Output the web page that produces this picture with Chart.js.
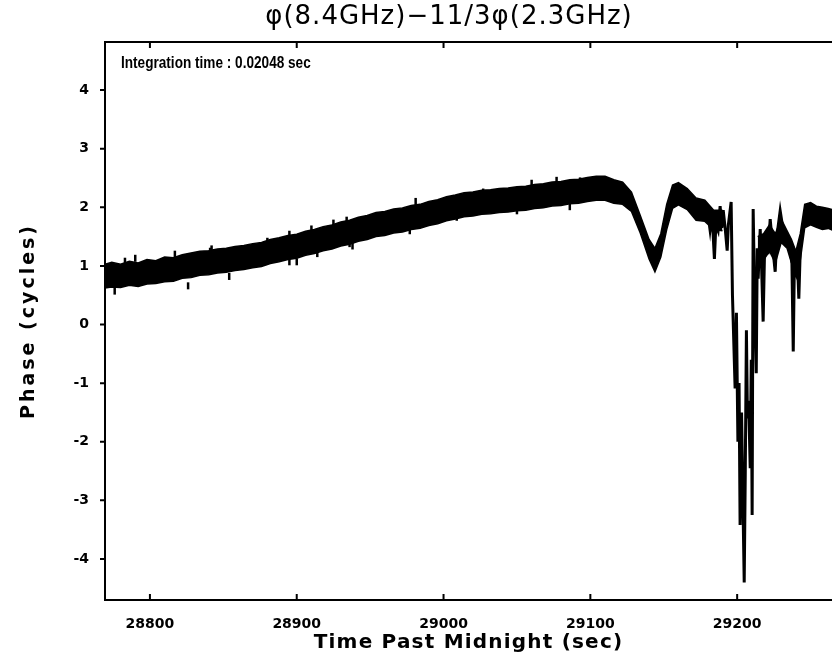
<!DOCTYPE html>
<html>
<head>
<meta charset="utf-8">
<script src="https://cdn.jsdelivr.net/npm/chart.js@4.4.1/dist/chart.umd.min.js"></script>
<style>
  html, body { margin: 0; padding: 0; background: #fff; }
  #wrap { position: relative; width: 832px; height: 665px; }
</style>
</head>
<body>
<div id="wrap"><canvas id="phase" width="832" height="665"></canvas></div>
<script>
// --- Texte ---
const chartTitle = "φ(8.4GHz)−11/3φ(2.3GHz)";
const noteText = "Integration time : 0.02048 sec";
const xAxisTitle = "Time Past Midnight (sec)";
const yAxisTitle = "Phase (cycles)";

// --- Achsen ---
const timeTicks = [28800, 28900, 29000, 29100, 29200];
const phaseTicks = [-4, -3, -2, -1, 0, 1, 2, 3, 4];
const timeRange = [28769.4, 29264.6];
const phaseRange = [-4.70, 4.82];

// --- Rauschband (obere / untere Kante) ---
const bandTime = [28768, 28774, 28780, 28786, 28792, 28798, 28804, 28810, 28816, 28822,
  28828, 28834, 28840, 28846, 28852, 28858, 28864, 28870, 28876, 28882,
  28888, 28894, 28900, 28906, 28912, 28918, 28924, 28930, 28936, 28942,
  28948, 28954, 28960, 28966, 28972, 28978, 28984, 28990, 28996, 29002,
  29008, 29014, 29020, 29026, 29032, 29038, 29044, 29050, 29056, 29062,
  29068, 29074, 29080, 29086, 29092, 29098, 29104, 29110, 29116, 29122,
  29128, 29134, 29140, 29144, 29148, 29152, 29156, 29160, 29166, 29172,
  29178, 29184, 29190];
const bandUpper = [1.02, 1.06, 1.03, 1.08, 1.05, 1.11, 1.09, 1.15, 1.14, 1.19,
  1.22, 1.25, 1.26, 1.29, 1.30, 1.33, 1.35, 1.38, 1.40, 1.45,
  1.48, 1.52, 1.54, 1.59, 1.62, 1.67, 1.70, 1.75, 1.78, 1.83,
  1.86, 1.91, 1.93, 1.97, 1.99, 2.03, 2.05, 2.10, 2.13, 2.18,
  2.21, 2.25, 2.26, 2.29, 2.30, 2.32, 2.33, 2.35, 2.36, 2.39,
  2.40, 2.43, 2.44, 2.47, 2.48, 2.51, 2.53, 2.53, 2.47, 2.43,
  2.26, 1.86, 1.45, 1.30, 1.55, 2.05, 2.38, 2.42, 2.32, 2.16,
  2.12, 1.95, 1.95];
const bandLower = [0.62, 0.64, 0.63, 0.67, 0.65, 0.69, 0.70, 0.73, 0.74, 0.79,
  0.80, 0.84, 0.85, 0.88, 0.89, 0.92, 0.94, 0.97, 0.99, 1.04,
  1.07, 1.11, 1.13, 1.18, 1.21, 1.26, 1.29, 1.34, 1.37, 1.42,
  1.45, 1.50, 1.52, 1.56, 1.58, 1.62, 1.64, 1.69, 1.72, 1.77,
  1.80, 1.84, 1.85, 1.88, 1.89, 1.91, 1.92, 1.94, 1.95, 1.98,
  1.99, 2.02, 2.03, 2.06, 2.07, 2.10, 2.12, 2.12, 2.07, 2.05,
  1.93, 1.56, 1.12, 0.90, 1.15, 1.62, 1.98, 2.04, 1.96, 1.78,
  1.76, 1.62, 1.60];

// --- Einzelne Ausreisser am Bandrand ---
const hairTime = [28776, 28783, 28790, 28817, 28826, 28841, 28842, 28854, 28880,
  28895, 28895, 28900, 28910, 28914, 28925, 28934, 28936, 28938, 28977,
  28981, 29009, 29027, 29050, 29060, 29077, 29086, 29093];
const hairPhase = [0.57, 1.08, 1.13, 1.20, 0.66, 1.25, 1.29, 0.82, 1.42,
  1.54, 1.07, 1.07, 1.63, 1.21, 1.73, 1.78, 1.38, 1.34, 1.60,
  2.10, 1.83, 2.26, 1.94, 2.41, 2.46, 2.01, 2.45];

// --- Band nach dem Einbruch ---
const tailTime = [29214, 29218, 29222, 29226, 29230, 29234, 29237, 29240, 29243, 29246,
  29250, 29254, 29258, 29262, 29266];
const tailUpper = [1.50, 1.55, 1.70, 1.55, 1.80, 1.60, 1.45, 1.25, 1.55, 2.05,
  2.08, 2.02, 2.00, 1.98, 1.95];
const tailLower = [1.05, 1.10, 1.25, 1.05, 1.40, 1.30, 1.05, 0.95, 1.10, 1.65,
  1.70, 1.66, 1.62, 1.64, 1.60];

// --- Phasensprünge (Einzelspur) ---
const spikeTime = [29180, 29181.5, 29182.5, 29183.6, 29184.5, 29185.5, 29187, 29188.4, 29189.5, 29190.5,
  29192, 29193.2, 29194, 29195.9, 29196.8, 29198.6, 29199.5, 29200.5, 29201.3, 29202,
  29203, 29204.8, 29205.5, 29206.3, 29207, 29207.8, 29208.9, 29209.6, 29210.2, 29210.9,
  29211.8, 29213, 29213.7, 29214.3, 29215.7, 29216.5, 29217.7, 29218.7, 29219.8, 29221,
  29222.5, 29223.9, 29225.9, 29227, 29229.3, 29231.4, 29234.1, 29236.1, 29237.3, 29238.2,
  29239, 29240, 29240.9, 29242, 29243, 29244.5, 29246.3];
const spikePhase = [1.90, 1.62, 1.85, 1.55, 1.12, 1.70, 1.60, 2.02, 1.65, 1.95,
  1.60, 1.26, 1.70, 2.09, 0.50, -1.09, 0.20, -2.00, -1.00, -3.42,
  -1.50, -4.40, -2.60, -0.10, -1.60, -1.30, -2.45, -0.60, -3.25, 1.97,
  0.60, -0.83, 1.30, 0.78, 1.63, 1.10, 0.05, 1.30, 1.55, 1.20,
  1.80, 1.40, 0.90, 1.50, 1.94, 1.60, 1.46, 1.30, 1.05, -0.46,
  1.10, 0.95, 1.20, 0.44, 1.30, 1.60, 1.92];

const pts = (xs, ys) => xs.map((t, i) => ({ x: t, y: ys[i] }));
const tickFont = { family: "DejaVu Sans", size: 14, weight: "bold" };

// Rahmen, Tickmarken nach innen, Titel und Notiz
const framePlugin = {
  id: "frame",
  afterDatasetsDraw(chart) {
    const { ctx, chartArea: a, scales: { x, y } } = chart;
    ctx.save();
    ctx.strokeStyle = "#000";
    ctx.lineWidth = 2;
    ctx.beginPath();
    ctx.moveTo(a.right, a.top); ctx.lineTo(a.left, a.top);
    ctx.lineTo(a.left, a.bottom); ctx.lineTo(a.right, a.bottom);
    x.ticks.forEach(t => {
      const px = x.getPixelForValue(t.value);
      ctx.moveTo(px, a.bottom); ctx.lineTo(px, a.bottom - 6);
      ctx.moveTo(px, a.top); ctx.lineTo(px, a.top + 6);
    });
    y.ticks.forEach(t => {
      const py = y.getPixelForValue(t.value);
      ctx.moveTo(a.left - 5, py); ctx.lineTo(a.left, py);
    });
    ctx.stroke();

    ctx.fillStyle = "#000";
    ctx.textBaseline = "middle";
    ctx.textAlign = "left";
    ctx.save();
    ctx.translate(a.left + 16, a.top + 21);
    ctx.scale(0.8, 1);
    ctx.font = 'bold 17px "Liberation Sans", sans-serif';
    ctx.fillText(noteText, 0, 0);
    ctx.restore();

    ctx.textAlign = "center";
    ctx.font = '26px "DejaVu Sans"';
    ctx.letterSpacing = "1px";
    ctx.fillText(chartTitle, a.left + 344, 17);
    ctx.restore();
  }
};

// Achsentitel mit Sperrung
const spacing = { x: "1.2px", y: "3px" };
const spacedTitles = {
  id: "spacedTitles",
  afterLayout(chart) {
    Object.values(chart.scales).forEach(s => {
      if (s._spaced) return;
      const orig = s.drawTitle.bind(s);
      s.drawTitle = function () {
        chart.ctx.save();
        chart.ctx.letterSpacing = spacing[s.id] || "0px";
        orig();
        chart.ctx.restore();
      };
      s._spaced = true;
    });
  }
};

const edge = { fill: false, borderColor: "#000", borderWidth: 1.5, pointRadius: 0, tension: 0 };

new Chart(document.getElementById("phase"), {
  type: "line",
  data: {
    datasets: [
      { ...edge, data: pts(bandTime, bandUpper), fill: "+1", backgroundColor: "#000" },
      { ...edge, data: pts(bandTime, bandLower) },
      { ...edge, data: pts(tailTime, tailUpper), fill: "+1", backgroundColor: "#000" },
      { ...edge, data: pts(tailTime, tailLower) },
      { ...edge, data: pts(spikeTime, spikePhase), borderWidth: 3 },
      { data: pts(hairTime, hairPhase), showLine: false, pointStyle: "line", rotation: 90,
        pointRadius: 3.5, pointBorderWidth: 2.5, pointBorderColor: "#000", pointBackgroundColor: "#000" }
    ]
  },
  options: {
    responsive: false,
    animation: false,
    layout: { autoPadding: false, padding: { top: 42, right: 0, left: 0, bottom: 0 } },
    plugins: { legend: { display: false }, tooltip: { enabled: false }, title: { display: false } },
    scales: {
      x: {
        type: "linear",
        min: timeRange[0], max: timeRange[1],
        afterFit: s => { s.height = 65; },
        afterBuildTicks: s => { s.ticks = timeTicks.map(v => ({ value: v })); },
        grid: { display: false },
        border: { display: false },
        ticks: { color: "#000", font: tickFont, padding: 8, autoSkip: false, maxRotation: 0, callback: v => String(v) },
        title: { display: true, text: xAxisTitle, color: "#000", font: { family: "DejaVu Sans", size: 20, weight: "bold" }, padding: { top: 0, bottom: 10 } }
      },
      y: {
        min: phaseRange[0], max: phaseRange[1],
        afterFit: s => { s.width = 105; },
        afterBuildTicks: s => { s.ticks = phaseTicks.map(v => ({ value: v })); },
        grid: { display: false },
        border: { display: false },
        ticks: { color: "#000", font: tickFont, padding: 8, autoSkip: false, callback: v => String(v) },
        title: { display: true, text: yAxisTitle, color: "#000", font: { family: "DejaVu Sans", size: 19, weight: "bold" }, padding: { top: 18, bottom: 0 } }
      }
    }
  },
  plugins: [framePlugin, spacedTitles]
});
</script>
</body>
</html>
